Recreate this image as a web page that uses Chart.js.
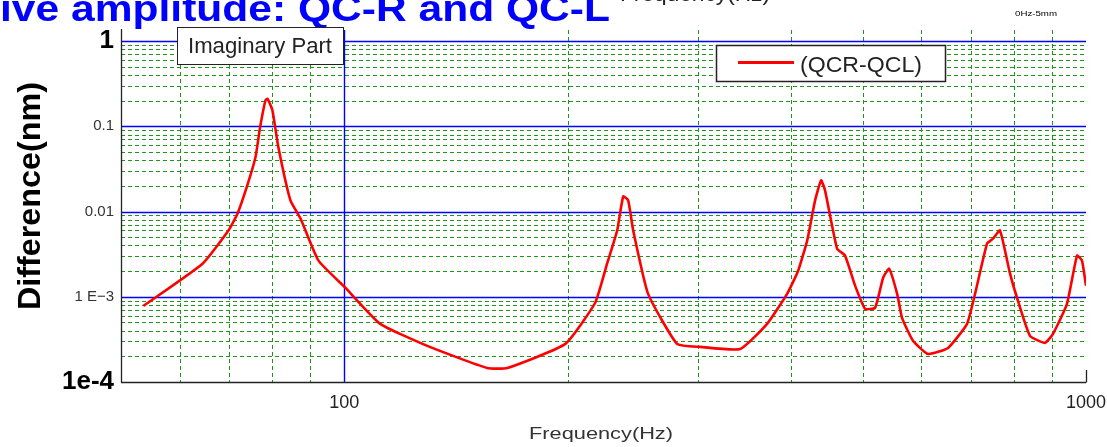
<!DOCTYPE html>
<html>
<head>
<meta charset="utf-8">
<title>QC-R and QC-L difference</title>
<script src="https://cdn.jsdelivr.net/npm/chart.js@4.4.1/dist/chart.umd.min.js"></script>
<style>
  html, body { margin: 0; padding: 0; background: #fff; }
  canvas { display: block; }
</style>
</head>
<body>
<canvas id="chart" width="1107" height="447"></canvas>
<script>
// values (log-log)
const freqHz = [53.6, 64.4, 69.8, 71.8, 74.0, 75.9, 77.0, 78.3, 78.8, 80.0, 81.5, 84.6, 87.3, 92.3, 100.3,
  111.8, 129.4, 155.8, 165.9, 198.6, 217.9, 226.1, 233.3, 237.7, 241.4, 245.2, 256.8, 281.0, 301.9, 341.8,
  371.6, 395.4, 409.2, 420.8, 431.3, 439.4, 444.8, 461.7, 473.3, 488.3, 503.7, 519.6, 532.7, 542.7, 556.4,
  564.9, 584.5, 612.4, 651.6, 691.2, 708.6, 735.5, 749.3, 765.7, 789.9, 807.2, 840.4, 880.4, 902.6, 942.7,
  972.5, 987.6, 1000]
const diffNm = [7.8e-4, 2.44e-3, 5.98e-3, 9.47e-3, 0.0202, 0.0432, 0.0973, 0.202, 0.21, 0.154, 0.0566, 0.0135, 8.27e-3, 2.65e-3, 1.28e-3,
  4.81e-4, 2.65e-4, 1.46e-4, 1.46e-4, 2.80e-4, 8.50e-4, 2.44e-3, 5.98e-3, 0.0150, 0.0135, 5.98e-3, 1.08e-3, 2.80e-4, 2.58e-4, 2.44e-4,
  4.81e-4, 1.08e-3, 2.02e-3, 4.56e-3, 0.0135, 0.0232, 0.0177, 3.67e-3, 3.04e-3, 1.35e-3, 7.22e-4, 7.43e-4, 1.67e-3, 2.13e-3, 1.08e-3,
  5.66e-4, 3.04e-4, 2.13e-4, 2.51e-4, 4.81e-4, 1.08e-3, 4.2e-3, 4.81e-3, 5.98e-3, 1.87e-3, 9.73e-4, 3.48e-4, 2.88e-4, 3.67e-4, 8.27e-4,
  3.04e-3, 2.65e-3, 1.35e-3]

const xTicks = [100, 1000]
const xTickLabels = ['100', '1000']
const yTicks = [1e-4, 1e-3, 0.01, 0.1, 1]
const yTickLabels = ['1e-4', '1 E\u22123', '0.01', '0.1', '1']

const seriesName = '(QCR-QCL)'
const boxLabel = 'Imaginary Part'
const titleText = 'ive amplitude: QC-R and QC-L'
const hiddenText = 'Frequency(Hz)'
const xTitle = 'Frequency(Hz)'
const yTitle = 'Difference(nm)'
const cornerNote = '0Hz-5mm'

const fam = '"Liberation Sans", Arial, sans-serif'

// draw text squeezed/stretched to a given width
let fitText = (ctx, text, x, y, font, color, width, align) => {
  ctx.save()
  ctx.font = font
  ctx.fillStyle = color
  ctx.textBaseline = 'alphabetic'
  ctx.textAlign = align || 'left'
  let k = width ? width / ctx.measureText(text).width : 1
  ctx.translate(x, y)
  ctx.scale(k, 1)
  ctx.fillText(text, 0, 0)
  ctx.restore()
}

let line = (ctx, x1, y1, x2, y2) => {
  ctx.beginPath()
  ctx.moveTo(x1, y1)
  ctx.lineTo(x2, y2)
  ctx.stroke()
}

let gridPlugin = {
  id: 'excelGrid',
  beforeDatasetsDraw(chart) {
    let {ctx, chartArea: a, scales: {x, y}} = chart
    let top = a.top - 11
    ctx.save()
    ctx.lineWidth = 1
    ctx.strokeStyle = '#1e961e'
    ctx.setLineDash([4, 3])
    for (let e = -4; e < 0; e++) {
      for (let m = 2; m <= 9; m++) {
        let py = Math.round(y.getPixelForValue(m * Math.pow(10, e))) + 0.5
        line(ctx, a.left, py, a.right, py)
      }
    }
    for (let e = 1; e < 3; e++) {
      for (let m = (e == 1 ? 6 : 2); m <= 9; m++) {
        let px = Math.round(x.getPixelForValue(m * Math.pow(10, e))) + 0.5
        line(ctx, px, top, px, a.bottom)
      }
    }
    ctx.setLineDash([])
    ctx.strokeStyle = '#0000ff'
    ctx.lineWidth = 1.4
    yTicks.slice(1).forEach(v => {
      let py = Math.round(y.getPixelForValue(v)) + 0.5
      line(ctx, a.left, py, a.right, py)
    })
    let p100 = Math.round(x.getPixelForValue(100)) + 0.5
    line(ctx, p100, top, p100, a.bottom)
    ctx.restore()
  },
  afterDraw(chart) {
    let {ctx, chartArea: a} = chart
    let ds = chart.data.datasets[0]
    ctx.save()
    // axes
    ctx.strokeStyle = '#222'
    ctx.lineWidth = 1.3
    line(ctx, a.left + 0.5, a.top - 12, a.left + 0.5, a.bottom + 0.5)
    line(ctx, a.left, a.bottom + 0.5, a.right, a.bottom + 0.5)
    line(ctx, a.right + 0.5, a.bottom - 12, a.right + 0.5, a.bottom + 0.5)

    // titles
    fitText(ctx, titleText, 0, 21, 'bold 36px ' + fam, '#0000ff', 610)
    fitText(ctx, hiddenText, 770, 1, '20px ' + fam, '#222', 150, 'right')
    fitText(ctx, cornerNote, 1015, 16, '8px ' + fam, '#000', 42)
    fitText(ctx, xTitle, 601, 439, '17px ' + fam, '#333', 144, 'center')
    ctx.save()
    ctx.translate(40, 196)
    ctx.rotate(-Math.PI / 2)
    fitText(ctx, yTitle, 0, 0, 'bold 32px ' + fam, '#000', 228, 'center')
    ctx.restore()

    // "Imaginary Part" box
    ctx.fillStyle = '#fff'
    ctx.strokeStyle = '#222'
    ctx.lineWidth = 1
    ctx.fillRect(177.5, 27.5, 166, 37)
    ctx.strokeRect(177.5, 27.5, 166, 37)
    fitText(ctx, boxLabel, 188, 53, '22px ' + fam, '#222', 144)

    // legend box
    ctx.lineWidth = 1.5
    ctx.fillRect(716.5, 45.5, 229, 36)
    ctx.strokeRect(716.5, 45.5, 229, 36)
    ctx.strokeStyle = ds.borderColor
    ctx.lineWidth = 3
    line(ctx, 738, 62.5, 794, 62.5)
    fitText(ctx, ds.label, 800, 72, '22px ' + fam, '#222', 122)
    ctx.restore()
  }
}

let ctx = document.getElementById('chart').getContext('2d')
let chart = new Chart(ctx, {
  type: 'line',
  data: {
    datasets: [{
      label: seriesName,
      data: freqHz.map((f, i) => ({x: f, y: diffNm[i]})),
      borderColor: '#ff0000',
      borderWidth: 2.6,
      pointRadius: 0,
      tension: 0.15,
      fill: false
    }]
  },
  options: {
    responsive: false,
    animation: false,
    devicePixelRatio: 1,
    layout: {padding: {top: 41, right: 21, left: 0, bottom: 0}},
    plugins: {
      legend: {display: false},
      title: {display: false},
      tooltip: {enabled: false}
    },
    scales: {
      x: {
        type: 'logarithmic',
        min: 50,
        max: 1000,
        afterBuildTicks: s => { s.ticks = xTicks.map(v => ({value: v})) },
        afterFit: s => { s.height = 65; s.paddingLeft = 0; s.paddingRight = 0 },
        grid: {display: false, drawTicks: false},
        border: {display: false},
        ticks: {
          autoSkip: false,
          maxRotation: 0,
          padding: 10,
          color: '#222',
          font: {family: fam, size: 18},
          callback: (v, i) => xTickLabels[i]
        }
      },
      y: {
        type: 'logarithmic',
        min: 1e-4,
        max: 1,
        afterBuildTicks: s => { s.ticks = yTicks.map(v => ({value: v})) },
        afterFit: s => { s.width = 121; s.paddingTop = 0; s.paddingBottom = 0 },
        grid: {display: false, drawTicks: false},
        border: {display: false},
        ticks: {
          autoSkip: false,
          padding: 7,
          color: c => (c.index == 0 || c.index == yTicks.length - 1) ? '#000' : '#333',
          font: c => (c.index == 0 || c.index == yTicks.length - 1)
            ? {family: fam, size: 26, weight: 'bold'}
            : {family: fam, size: 15},
          callback: (v, i) => yTickLabels[i]
        }
      }
    }
  },
  plugins: [gridPlugin]
})
</script>
</body>
</html>
